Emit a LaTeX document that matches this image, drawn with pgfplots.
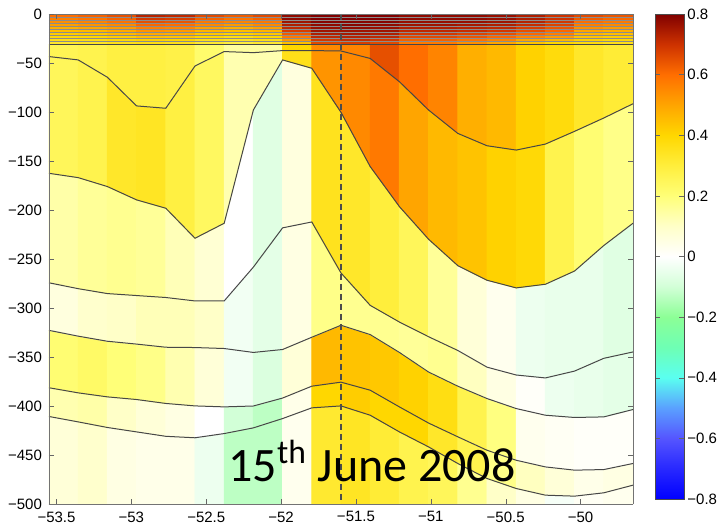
\documentclass[border=0pt]{standalone}
\usepackage{fontspec}
\setmainfont{Liberation Sans}
\newfontfamily\datefont{Carlito}
\usepackage{pgfplots}
\usepackage{pgfplotstable}
\pgfplotsset{compat=1.18}

% Section on isopycnal layers: one scanline per interface (surface, thin
% surface layers, the 31 m interface, six deeper interfaces, 500 m bottom).
% Each point carries the value c of the layer below it, in the column to its right.
\pgfplotstableread[row sep=\\]{
x y c \\
-53.55 0 0.60 \\ -53.355 0 0.62 \\ -53.16 0 0.65 \\ -52.965 0 0.73 \\ -52.77 0 0.72 \\ -52.575 0 0.66 \\ -52.38 0 0.63 \\
-52.185 0 0.66 \\ -51.99 0 0.78 \\ -51.795 0 0.80 \\ -51.6 0 0.80 \\ -51.405 0 0.80 \\ -51.21 0 0.78 \\ -51.015 0 0.78 \\
-50.82 0 0.78 \\ -50.625 0 0.77 \\ -50.43 0 0.74 \\ -50.235 0 0.70 \\ -50.04 0 0.66 \\ -49.845 0 0.64 \\ -49.65 0 0.64 \\
-53.55 -3.1 0.57 \\ -53.355 -3.1 0.59 \\ -53.16 -3.1 0.62 \\ -52.965 -3.1 0.69 \\ -52.77 -3.1 0.68 \\ -52.575 -3.1 0.62 \\ -52.38 -3.1 0.59 \\
-52.185 -3.1 0.62 \\ -51.99 -3.1 0.78 \\ -51.795 -3.1 0.80 \\ -51.6 -3.1 0.80 \\ -51.405 -3.1 0.80 \\ -51.21 -3.1 0.78 \\ -51.015 -3.1 0.78 \\
-50.82 -3.1 0.78 \\ -50.625 -3.1 0.77 \\ -50.43 -3.1 0.74 \\ -50.235 -3.1 0.70 \\ -50.04 -3.1 0.63 \\ -49.845 -3.1 0.61 \\ -49.65 -3.1 0.61 \\
-53.55 -6.2 0.54 \\ -53.355 -6.2 0.56 \\ -53.16 -6.2 0.59 \\ -52.965 -6.2 0.65 \\ -52.77 -6.2 0.64 \\ -52.575 -6.2 0.58 \\ -52.38 -6.2 0.56 \\
-52.185 -6.2 0.58 \\ -51.99 -6.2 0.76 \\ -51.795 -6.2 0.79 \\ -51.6 -6.2 0.79 \\ -51.405 -6.2 0.79 \\ -51.21 -6.2 0.77 \\ -51.015 -6.2 0.77 \\
-50.82 -6.2 0.77 \\ -50.625 -6.2 0.76 \\ -50.43 -6.2 0.73 \\ -50.235 -6.2 0.69 \\ -50.04 -6.2 0.60 \\ -49.845 -6.2 0.58 \\ -49.65 -6.2 0.58 \\
-53.55 -9.3 0.51 \\ -53.355 -9.3 0.53 \\ -53.16 -9.3 0.55 \\ -52.965 -9.3 0.61 \\ -52.77 -9.3 0.60 \\ -52.575 -9.3 0.55 \\ -52.38 -9.3 0.52 \\
-52.185 -9.3 0.55 \\ -51.99 -9.3 0.74 \\ -51.795 -9.3 0.78 \\ -51.6 -9.3 0.79 \\ -51.405 -9.3 0.78 \\ -51.21 -9.3 0.76 \\ -51.015 -9.3 0.76 \\
-50.82 -9.3 0.75 \\ -50.625 -9.3 0.74 \\ -50.43 -9.3 0.71 \\ -50.235 -9.3 0.67 \\ -50.04 -9.3 0.57 \\ -49.845 -9.3 0.55 \\ -49.65 -9.3 0.55 \\
-53.55 -12.4 0.48 \\ -53.355 -12.4 0.50 \\ -53.16 -12.4 0.52 \\ -52.965 -12.4 0.57 \\ -52.77 -12.4 0.56 \\ -52.575 -12.4 0.51 \\ -52.38 -12.4 0.48 \\
-52.185 -12.4 0.51 \\ -51.99 -12.4 0.72 \\ -51.795 -12.4 0.77 \\ -51.6 -12.4 0.78 \\ -51.405 -12.4 0.77 \\ -51.21 -12.4 0.74 \\ -51.015 -12.4 0.74 \\
-50.82 -12.4 0.73 \\ -50.625 -12.4 0.72 \\ -50.43 -12.4 0.68 \\ -50.235 -12.4 0.64 \\ -50.04 -12.4 0.54 \\ -49.845 -12.4 0.52 \\ -49.65 -12.4 0.52 \\
-53.55 -15.5 0.45 \\ -53.355 -15.5 0.46 \\ -53.16 -15.5 0.49 \\ -52.965 -15.5 0.53 \\ -52.77 -15.5 0.52 \\ -52.575 -15.5 0.47 \\ -52.38 -15.5 0.45 \\
-52.185 -15.5 0.47 \\ -51.99 -15.5 0.68 \\ -51.795 -15.5 0.76 \\ -51.6 -15.5 0.76 \\ -51.405 -15.5 0.76 \\ -51.21 -15.5 0.72 \\ -51.015 -15.5 0.72 \\
-50.82 -15.5 0.71 \\ -50.625 -15.5 0.69 \\ -50.43 -15.5 0.65 \\ -50.235 -15.5 0.61 \\ -50.04 -15.5 0.50 \\ -49.845 -15.5 0.48 \\ -49.65 -15.5 0.48 \\
-53.55 -18.6 0.42 \\ -53.355 -18.6 0.43 \\ -53.16 -18.6 0.46 \\ -52.965 -18.6 0.49 \\ -52.77 -18.6 0.48 \\ -52.575 -18.6 0.43 \\ -52.38 -18.6 0.41 \\
-52.185 -18.6 0.43 \\ -51.99 -18.6 0.63 \\ -51.795 -18.6 0.74 \\ -51.6 -18.6 0.75 \\ -51.405 -18.6 0.74 \\ -51.21 -18.6 0.69 \\ -51.015 -18.6 0.69 \\
-50.82 -18.6 0.67 \\ -50.625 -18.6 0.65 \\ -50.43 -18.6 0.61 \\ -50.235 -18.6 0.57 \\ -50.04 -18.6 0.47 \\ -49.845 -18.6 0.45 \\ -49.65 -18.6 0.45 \\
-53.55 -21.7 0.39 \\ -53.355 -21.7 0.40 \\ -53.16 -21.7 0.42 \\ -52.965 -21.7 0.45 \\ -52.77 -21.7 0.44 \\ -52.575 -21.7 0.40 \\ -52.38 -21.7 0.37 \\
-52.185 -21.7 0.40 \\ -51.99 -21.7 0.58 \\ -51.795 -21.7 0.72 \\ -51.6 -21.7 0.73 \\ -51.405 -21.7 0.72 \\ -51.21 -21.7 0.66 \\ -51.015 -21.7 0.66 \\
-50.82 -21.7 0.64 \\ -50.625 -21.7 0.61 \\ -50.43 -21.7 0.56 \\ -50.235 -21.7 0.52 \\ -50.04 -21.7 0.44 \\ -49.845 -21.7 0.42 \\ -49.65 -21.7 0.42 \\
-53.55 -24.8 0.36 \\ -53.355 -24.8 0.37 \\ -53.16 -24.8 0.39 \\ -52.965 -24.8 0.41 \\ -52.77 -24.8 0.40 \\ -52.575 -24.8 0.36 \\ -52.38 -24.8 0.34 \\
-52.185 -24.8 0.36 \\ -51.99 -24.8 0.52 \\ -51.795 -24.8 0.69 \\ -51.6 -24.8 0.71 \\ -51.405 -24.8 0.69 \\ -51.21 -24.8 0.62 \\ -51.015 -24.8 0.62 \\
-50.82 -24.8 0.59 \\ -50.625 -24.8 0.56 \\ -50.43 -24.8 0.50 \\ -50.235 -24.8 0.46 \\ -50.04 -24.8 0.41 \\ -49.845 -24.8 0.39 \\ -49.65 -24.8 0.39 \\
-53.55 -27.9 0.33 \\ -53.355 -27.9 0.34 \\ -53.16 -27.9 0.36 \\ -52.965 -27.9 0.37 \\ -52.77 -27.9 0.36 \\ -52.575 -27.9 0.32 \\ -52.38 -27.9 0.30 \\
-52.185 -27.9 0.32 \\ -51.99 -27.9 0.45 \\ -51.795 -27.9 0.66 \\ -51.6 -27.9 0.68 \\ -51.405 -27.9 0.66 \\ -51.21 -27.9 0.58 \\ -51.015 -27.9 0.58 \\
-50.82 -27.9 0.54 \\ -50.625 -27.9 0.50 \\ -50.43 -27.9 0.44 \\ -50.235 -27.9 0.40 \\ -50.04 -27.9 0.38 \\ -49.845 -27.9 0.36 \\ -49.65 -27.9 0.36 \\
-53.55 -31 0.26 \\ -53.355 -31 0.27 \\ -53.16 -31 0.29 \\ -52.965 -31 0.29 \\ -52.77 -31 0.28 \\ -52.575 -31 0.22 \\ -52.38 -31 0.15 \\
-52.185 -31 0.15 \\ -51.99 -31 0.40 \\ -51.795 -31 0.55 \\ -51.6 -31 0.56 \\ -51.405 -31 0.65 \\ -51.21 -31 0.60 \\ -51.015 -31 0.56 \\
-50.82 -31 0.48 \\ -50.625 -31 0.46 \\ -50.43 -31 0.41 \\ -50.235 -31 0.38 \\ -50.04 -31 0.33 \\ -49.845 -31 0.31 \\ -49.65 -31 0.31 \\
-53.55 -43.4 0.25 \\ -53.355 -46.8 0.27 \\ -53.16 -64.5 0.33 \\ -52.965 -93.7 0.34 \\ -52.77 -96.1 0.29 \\ -52.575 -53 0.24 \\ -52.38 -38.3 0.13 \\
-52.185 -39.4 0.13 \\ -51.99 -37.3 0.36 \\ -51.795 -37.3 0.53 \\ -51.6 -37.7 0.55 \\ -51.405 -45.3 0.58 \\ -51.21 -69 0.50 \\ -51.015 -97.9 0.46 \\
-50.82 -121.7 0.44 \\ -50.625 -134.3 0.41 \\ -50.43 -138.7 0.39 \\ -50.235 -132.6 0.27 \\ -50.04 -119.6 0.21 \\ -49.845 -106 0.18 \\ -49.65 -91.5 0.18 \\
-53.55 -162.4 0.14 \\ -53.355 -166.8 0.16 \\ -53.16 -175.9 0.17 \\ -52.965 -189.5 0.16 \\ -52.77 -198 0.12 \\ -52.575 -228.6 0.08 \\ -52.38 -213.3 0.00 \\
-52.185 -97.8 -0.07 \\ -51.99 -46.8 0.06 \\ -51.795 -55.3 0.35 \\ -51.6 -100.2 0.33 \\ -51.405 -155.5 0.30 \\ -51.21 -196.3 0.25 \\ -51.015 -229.6 0.16 \\
-50.82 -256.5 0.07 \\ -50.625 -271.4 0.03 \\ -50.43 -279.2 -0.04 \\ -50.235 -275.5 -0.05 \\ -50.04 -262 -0.05 \\ -49.845 -236 -0.07 \\ -49.65 -213.3 -0.07 \\
-53.55 -274 0.06 \\ -53.355 -280 0.09 \\ -53.16 -285 0.10 \\ -52.965 -287 0.12 \\ -52.77 -289 0.12 \\ -52.575 -292.5 0.10 \\ -52.38 -292.5 -0.03 \\
-52.185 -258 -0.06 \\ -51.99 -218 0.05 \\ -51.795 -212 0.18 \\ -51.6 -264 0.17 \\ -51.405 -297 0.17 \\ -51.21 -314 0.16 \\ -51.015 -329 0.17 \\
-50.82 -343 0.11 \\ -50.625 -360 0.05 \\ -50.43 -368 0.01 \\ -50.235 -371 -0.04 \\ -50.04 -364 -0.05 \\ -49.845 -351 -0.06 \\ -49.65 -344.5 -0.06 \\
-53.55 -322.5 0.21 \\ -53.355 -328.4 0.23 \\ -53.16 -333.6 0.20 \\ -52.965 -336.5 0.18 \\ -52.77 -339.7 0.13 \\ -52.575 -340 0.07 \\ -52.38 -341 -0.03 \\
-52.185 -345 -0.08 \\ -51.99 -342 0.07 \\ -51.795 -329.5 0.46 \\ -51.6 -317.3 0.44 \\ -51.405 -326.8 0.43 \\ -51.21 -345 0.41 \\ -51.015 -365 0.37 \\
-50.82 -379.4 0.27 \\ -50.625 -392 0.19 \\ -50.43 -402.2 0.03 \\ -50.235 -409 0.02 \\ -50.04 -411.3 0.01 \\ -49.845 -410.7 0.01 \\ -49.65 -403.2 0.01 \\
-53.55 -381 0.13 \\ -53.355 -386.2 0.14 \\ -53.16 -390.3 0.10 \\ -52.965 -393 0.07 \\ -52.77 -397 0.05 \\ -52.575 -399.5 0.00 \\ -52.38 -400.5 -0.10 \\
-52.185 -399.6 -0.13 \\ -51.99 -391.5 0.04 \\ -51.795 -379.4 0.40 \\ -51.6 -375.3 0.42 \\ -51.405 -383.5 0.40 \\ -51.21 -400.5 0.40 \\ -51.015 -417 0.33 \\
-50.82 -431 0.27 \\ -50.625 -444.7 0.18 \\ -50.43 -454.9 0.11 \\ -50.235 -461.7 0.07 \\ -50.04 -465 0.04 \\ -49.845 -464.4 0.05 \\ -49.65 -458.2 0.05 \\
-53.55 -410.3 0.07 \\ -53.355 -415.8 0.09 \\ -53.16 -421.5 0.05 \\ -52.965 -426 0.04 \\ -52.77 -430.5 0.04 \\ -52.575 -432 -0.04 \\ -52.38 -427.7 -0.13 \\
-52.185 -421.9 -0.13 \\ -51.99 -412.4 0.03 \\ -51.795 -401.5 0.32 \\ -51.6 -399.5 0.34 \\ -51.405 -409 0.31 \\ -51.21 -426 0.27 \\ -51.015 -441.3 0.25 \\
-50.82 -458.2 0.17 \\ -50.625 -473.5 0.10 \\ -50.43 -483.7 0.05 \\ -50.235 -490.5 -0.02 \\ -50.04 -491.5 0.02 \\ -49.845 -488.1 0.03 \\ -49.65 -480.3 0.03 \\
-53.55 -500 0.07 \\ -53.355 -500 0.09 \\ -53.16 -500 0.05 \\ -52.965 -500 0.04 \\ -52.77 -500 0.04 \\ -52.575 -500 -0.04 \\ -52.38 -500 -0.13 \\
-52.185 -500 -0.13 \\ -51.99 -500 0.03 \\ -51.795 -500 0.32 \\ -51.6 -500 0.34 \\ -51.405 -500 0.31 \\ -51.21 -500 0.27 \\ -51.015 -500 0.25 \\
-50.82 -500 0.17 \\ -50.625 -500 0.10 \\ -50.43 -500 0.05 \\ -50.235 -500 -0.02 \\ -50.04 -500 0.02 \\ -49.845 -500 0.03 \\ -49.65 -500 0.03 \\
}\secdata

\pgfplotsset{
  cline/.style={no marks, draw=black!72, line width=0.5pt},
  sline/.style={no marks, draw=black!45, line width=0.35pt},
  % interface n occupies points 21n ... 21n+20 of the table
  iface/.style n args={2}{cline, skip coords between index={0}{#1},
    skip coords between index={#2}{378}},
  tface/.style n args={2}{sline, skip coords between index={0}{#1},
    skip coords between index={#2}{378}},
}

\begin{document}
\begin{tikzpicture}
\begin{axis}[
  name=main, at={(0,0)}, anchor=south west,
  view={0}{90},
  scale only axis, width=292pt, height=245.25pt,
  xmin=-53.55, xmax=-49.65, ymin=-500, ymax=0,
  ztick=\empty,
  xtick={-53.5,-53,-52.5,-52,-51.5,-51,-50.5,-50},
  xticklabels={−53.5,−53,−52.5,−52,−51.5,−51,−50.5,−50},
  ytick={-500,-450,-400,-350,-300,-250,-200,-150,-100,-50,0},
  yticklabels={−500,−450,−400,−350,−300,−250,−200,−150,−100,−50,0},
  tick label style={font=\fontsize{7.5}{9}\selectfont},
  tick align=inside, major tick length=2.5pt,
  tick style={black!60},
  axis line style={black!55},
  colormap={section}{
    rgb255=(0,0,255) rgb255=(40,40,255) rgb255=(85,85,255) rgb255=(90,160,255)
    rgb255=(90,255,240) rgb255=(110,255,180) rgb255=(140,255,150) rgb255=(210,255,215)
    rgb255=(255,255,255) rgb255=(255,255,200) rgb255=(255,255,120) rgb255=(255,238,60)
    rgb255=(255,215,0) rgb255=(255,165,0) rgb255=(255,110,0) rgb255=(205,50,0)
    rgb255=(128,0,0)},
  point meta min=-0.8, point meta max=0.8,
  colorbar,
  colorbar style={
    at={(parent axis.north east)}, anchor=north west, xshift=2.5pt,
    width=14.5pt, height=242.5pt,
    ytick={-0.8,-0.6,-0.4,-0.2,0,0.2,0.4,0.6,0.8},
    yticklabels={−0.8,−0.6,−0.4,−0.2,0,0.2,0.4,0.6,0.8},
    tick label style={font=\fontsize{7.5}{9}\selectfont},
    yticklabel style={inner sep=1.5pt},
    tick align=inside, major tick length=2.5pt,
    tick style={black!60}, axis line style={black!70},
  },
]
\addplot3[surf, shader=flat corner, mesh/rows=18, mesh/cols=21,
  point meta=explicit] table[x=x, y=y, z=c, meta=c] {\secdata};

% thin surface layers
\addplot3[tface={21}{42}] table[x=x, y=y, z=c] {\secdata};
\addplot3[tface={42}{63}] table[x=x, y=y, z=c] {\secdata};
\addplot3[tface={63}{84}] table[x=x, y=y, z=c] {\secdata};
\addplot3[tface={84}{105}] table[x=x, y=y, z=c] {\secdata};
\addplot3[tface={105}{126}] table[x=x, y=y, z=c] {\secdata};
\addplot3[tface={126}{147}] table[x=x, y=y, z=c] {\secdata};
\addplot3[tface={147}{168}] table[x=x, y=y, z=c] {\secdata};
\addplot3[tface={168}{189}] table[x=x, y=y, z=c] {\secdata};
\addplot3[tface={189}{210}] table[x=x, y=y, z=c] {\secdata};
% the 31 m interface and the deeper interfaces
\addplot3[iface={210}{231}] table[x=x, y=y, z=c] {\secdata};
\addplot3[iface={231}{252}] table[x=x, y=y, z=c] {\secdata};
\addplot3[iface={252}{273}] table[x=x, y=y, z=c] {\secdata};
\addplot3[iface={273}{294}] table[x=x, y=y, z=c] {\secdata};
\addplot3[iface={294}{315}] table[x=x, y=y, z=c] {\secdata};
\addplot3[iface={315}{336}] table[x=x, y=y, z=c] {\secdata};
\addplot3[iface={336}{357}] table[x=x, y=y, z=c] {\secdata};

% station marker
\addplot3[no marks, draw=black!70, line width=0.6pt, dash pattern=on 3pt off 2pt]
  coordinates {(-51.6,0,0) (-51.6,-500,0)};
\end{axis}

\node[anchor=base west, inner sep=0pt, font=\datefont\fontsize{24}{28}\selectfont]
  at ([xshift=89.5pt,yshift=11.4pt]main.south west) {15\textsuperscript{th} June 2008};

\pgfresetboundingbox
\path[use as bounding box] ([xshift=-24.5pt,yshift=-12.25pt]main.south west)
  rectangle ([xshift=335.5pt,yshift=252.25pt]main.south west);
\end{tikzpicture}
\end{document}
